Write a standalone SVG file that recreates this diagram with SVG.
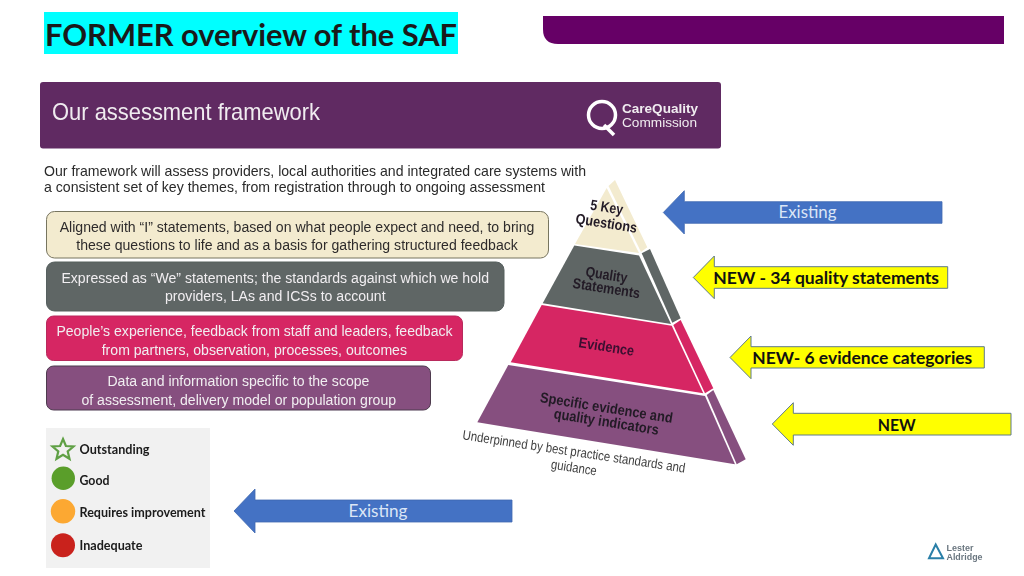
<svg xmlns="http://www.w3.org/2000/svg" width="1024" height="576" viewBox="0 0 1024 576">
<defs><filter id="soft" x="-5%" y="-5%" width="110%" height="110%"><feGaussianBlur stdDeviation="0.4"/></filter></defs>
<style>
text{font-family:"Liberation Sans",Arial,sans-serif}
.c{font-family:Lato,"Open Sans",sans-serif}
.b{font-weight:700}
.m{text-anchor:middle}
.box{stroke-width:1}
.pic{filter:url(#soft)}
.wt{fill:#f1eef1;font-size:15.5px}
.bt{fill:#2e2c2c;font-size:15.5px}
.pt{fill:#231a26;font-size:14.5px;font-weight:700}
.pt2{fill:#3c1030;font-size:14.5px;font-weight:700}
.ul{fill:#3f3f3f;font-size:13.5px}
.lg{font-family:Lato,"Open Sans",sans-serif;font-weight:700;font-size:12.5px;fill:#1a1a1a}
.ab{fill:#4472c4;stroke:#3f68b0;stroke-width:.8}
.ay{fill:#ffff00;stroke:#5f7a8c;stroke-width:1}
.at{font-family:Lato,"Open Sans",sans-serif;font-weight:700;font-size:17px;fill:#111}
.ae{font-family:Lato,"Open Sans",sans-serif;font-size:16.5px;fill:#dbe6f6}
</style>
<rect width="1024" height="576" fill="#fff"/>
<g id="title">
<rect x="44" y="12" width="414" height="42" fill="#00ffff"/>
<text class="c b" x="45" y="45.500" font-size="31" fill="#1a1a1a" textLength="412" lengthAdjust="spacingAndGlyphs">FORMER overview of the SAF</text>
</g>
<path id="top-bar" d="M543 16H1004V44H558Q543 44 543 29Z" fill="#660066"/>
<g id="header" class="pic">
<rect x="40" y="82" width="681" height="66.500" rx="3" fill="#612b62"/>
<text x="52" y="120" font-size="24" fill="#f0ecf0" textLength="268" lengthAdjust="spacingAndGlyphs">Our assessment framework</text>
<circle cx="602" cy="115" r="13.500" fill="none" stroke="#fff" stroke-width="3.500"/>
<path d="M604 125L614 135" stroke="#fff" stroke-width="3.500" fill="none"/>
<text x="622" y="112.500" font-size="12.600" font-weight="700" fill="#f0ecf0" textLength="76" lengthAdjust="spacingAndGlyphs">CareQuality</text>
<text x="622" y="127" font-size="12.600" fill="#f0ecf0" textLength="75" lengthAdjust="spacingAndGlyphs">Commission</text>
</g>
<g id="intro" class="pic">
<text x="44" y="176" font-size="15" fill="#2a2a2a" textLength="542" lengthAdjust="spacingAndGlyphs">Our framework will assess providers, local authorities and integrated care systems with</text>
<text x="44" y="192" font-size="15" fill="#2a2a2a" textLength="501" lengthAdjust="spacingAndGlyphs">a consistent set of key themes, from registration through to ongoing assessment</text>
</g>
<g id="box-i-statements" class="pic">
<rect class="box" x="46.500" y="211.500" width="502" height="46.500" rx="8" fill="#f3ebcf" stroke="#77745f"/>
<text class="bt" x="59.700" y="232" textLength="474.700" lengthAdjust="spacingAndGlyphs">Aligned with “I” statements, based on what people expect and need, to bring</text>
<text class="bt" x="76.300" y="250" textLength="441.500" lengthAdjust="spacingAndGlyphs">these questions to life and as a basis for gathering structured feedback</text>
</g>
<g id="box-we-statements" class="pic">
<rect class="box" x="46.500" y="262" width="457.500" height="49" rx="8" fill="#5f6665" stroke="#56605f"/>
<text class="wt" x="61.400" y="282.500" textLength="427.600" lengthAdjust="spacingAndGlyphs">Expressed as “We” statements; the standards against which we hold</text>
<text class="wt" x="165" y="301" textLength="220.600" lengthAdjust="spacingAndGlyphs">providers, LAs and ICSs to account</text>
</g>
<g id="box-evidence" class="pic">
<rect class="box" x="46.500" y="316" width="416" height="44.500" rx="7" fill="#d62763" stroke="#b82a5c"/>
<text class="wt" x="56.400" y="336" textLength="396.200" lengthAdjust="spacingAndGlyphs">People’s experience, feedback from staff and leaders, feedback</text>
<text class="wt" x="101.700" y="354.500" textLength="305.300" lengthAdjust="spacingAndGlyphs">from partners, observation, processes, outcomes</text>
</g>
<g id="box-data" class="pic">
<rect class="box" x="46.500" y="366" width="384" height="44" rx="7" fill="#86507f" stroke="#4d3a4e"/>
<text class="wt" x="107.400" y="386" textLength="262" lengthAdjust="spacingAndGlyphs">Data and information specific to the scope</text>
<text class="wt" x="81.400" y="404.500" textLength="314.700" lengthAdjust="spacingAndGlyphs">of assessment, delivery model or population group</text>
</g>
<g id="pyramid" class="pic">
<polygon points="606.700,188 639,253 575,244" fill="#f3ebcf"/>
<polygon points="608.500,186 615,180 647.300,247.300 641,252" fill="#f3ebcf"/>
<polygon points="574.300,245.500 639,255.500 671,324 542.700,303.300" fill="#5f6665"/>
<polygon points="641.700,253.300 650,249 680.700,318.300 672.300,322.700" fill="#5f6665"/>
<polygon points="541.700,305 671.700,325.700 703.300,393.300 510.700,362.300" fill="#d62763"/>
<polygon points="673.300,325 680.700,320 713.300,388.300 705,393.300" fill="#d62763"/>
<polygon points="508.300,365 705,396 735,464.300 477.300,422.300" fill="#86507f"/>
<polygon points="706.700,395 713.300,390 745.700,459.300 736.700,464.300" fill="#86507f"/>
<text class="pt m" transform="translate(606 212) rotate(9)" textLength="33" lengthAdjust="spacingAndGlyphs">5 Key</text>
<text class="pt m" transform="translate(605.700 228) rotate(9)" textLength="62" lengthAdjust="spacingAndGlyphs">Questions</text>
<text class="pt m" transform="translate(605.700 279.500) rotate(9)" textLength="42" lengthAdjust="spacingAndGlyphs">Quality</text>
<text class="pt m" transform="translate(605.700 293) rotate(9)" textLength="68" lengthAdjust="spacingAndGlyphs">Statements</text>
<text class="pt2 m" transform="translate(605.700 351.500) rotate(9)" textLength="56" lengthAdjust="spacingAndGlyphs">Evidence</text>
<text class="pt m" transform="translate(605.700 412.500) rotate(9)" textLength="134" lengthAdjust="spacingAndGlyphs">Specific evidence and</text>
<text class="pt m" transform="translate(605.700 426.500) rotate(9)" textLength="106" lengthAdjust="spacingAndGlyphs">quality indicators</text>
<text class="ul m" transform="translate(573.300 456) rotate(8.500)" textLength="225" lengthAdjust="spacingAndGlyphs">Underpinned by best practice standards and</text>
<text class="ul m" transform="translate(573.300 472) rotate(8.500)" textLength="46" lengthAdjust="spacingAndGlyphs">guidance</text>
</g>
<g id="arrow-existing-top">
<polygon class="ab" points="663.300,212.500 684.300,190.700 684.300,201.700 942,201.700 942,223.300 684.300,223.300 684.300,234"/>
<text class="ae m" x="807.500" y="218" textLength="58" lengthAdjust="spacingAndGlyphs">Existing</text>
</g>
<g id="arrow-new-statements">
<polygon class="ay" points="693.300,277.500 714.300,256 714.300,266.700 947.700,266.700 947.700,288.300 714.300,288.300 714.300,298.700"/>
<text class="at" x="713.300" y="284" textLength="225.700" lengthAdjust="spacingAndGlyphs">NEW - 34 quality statements</text>
</g>
<g id="arrow-new-evidence">
<polygon class="ay" points="730,357.500 751,336 751,346.700 984.300,346.700 984.300,368 751,368 751,378.700"/>
<text class="at" x="752.300" y="363.500" textLength="220" lengthAdjust="spacingAndGlyphs">NEW- 6 evidence categories</text>
</g>
<g id="arrow-new">
<polygon class="ay" points="772.300,424 793.300,402.700 793.300,413.300 1011,413.300 1011,435 793.300,435 793.300,445.300"/>
<text class="at" x="877.700" y="430.500" textLength="38" lengthAdjust="spacingAndGlyphs">NEW</text>
</g>
<g id="arrow-existing-bottom">
<polygon class="ab" points="234,511 255,489 255,500 512,500 512,522 255,522 255,533"/>
<text class="ae m" x="378" y="517" textLength="59" lengthAdjust="spacingAndGlyphs">Existing</text>
</g>
<g id="legend" class="pic">
<rect x="46" y="428" width="164" height="140" fill="#f1f1f1"/>
<polygon points="63,439 65.900,446 73.500,446.500 67.700,451.300 69.500,458.800 63,454.700 56.500,458.800 58.300,451.300 52.500,446.500 60.100,446" fill="none" stroke="#5fa044" stroke-width="2.200"/>
<circle cx="63.300" cy="478.300" r="11.700" fill="#5a9e2c"/>
<circle cx="63" cy="511.300" r="12.200" fill="#fca831"/>
<circle cx="63" cy="545.300" r="12" fill="#c9211e"/>
<text class="lg" x="79.500" y="454" textLength="70" lengthAdjust="spacingAndGlyphs">Outstanding</text>
<text class="lg" x="79.500" y="484.500" textLength="30" lengthAdjust="spacingAndGlyphs">Good</text>
<text class="lg" x="79.500" y="517" textLength="126" lengthAdjust="spacingAndGlyphs">Requires improvement</text>
<text class="lg" x="79.500" y="549.500" textLength="63" lengthAdjust="spacingAndGlyphs">Inadequate</text>
</g>
<g id="logo" class="pic">
<polygon points="935.700,544.500 943,558.300 929,558.300" fill="none" stroke="#2a7fa8" stroke-width="2"/>
<text x="946.500" y="550.500" font-size="9" font-weight="700" fill="#6b7780" textLength="27" lengthAdjust="spacingAndGlyphs">Lester</text>
<text x="946.500" y="560" font-size="9" font-weight="700" fill="#6b7780" textLength="36" lengthAdjust="spacingAndGlyphs">Aldridge</text>
</g>
</svg>
